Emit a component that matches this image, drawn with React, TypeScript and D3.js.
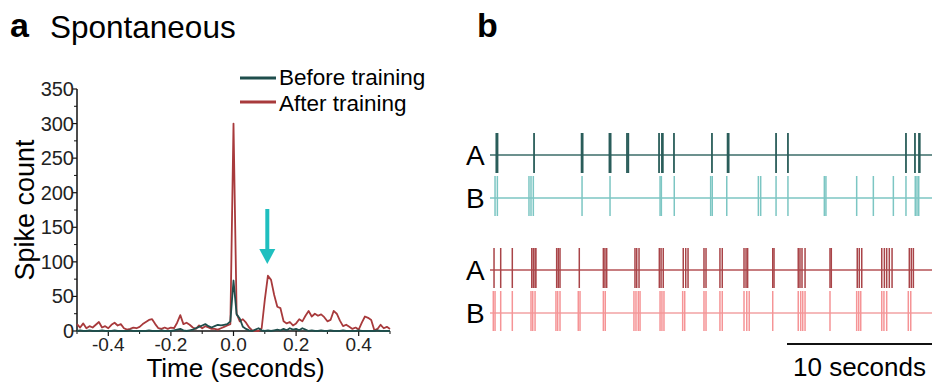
import * as d3 from 'd3';

const FONT = '"Liberation Sans", Arial, Helvetica, sans-serif';

// Panel a: spike-triggered histogram, 10 ms bins from -0.5 s to 0.5 s
const binTimes = d3.range(-50, 51).map(i => i / 100);

const beforeCounts = [
  0, 1, 0, 0, 1, 0, 0, 0, 1, 0,
  0, 0, 1, 0, 0, 0, 0, 1, 0, 0,
  0, 0, 0, 1, 0, 0, 0, 1, 0, 0,
  0, 1, 2, 3, 1, 0, 1, 2, 4, 6,
  8, 10, 7, 5, 7, 9, 8, 9, 10, 14,
  73,
  24, 18, 6, 3, 1, 0, 2, 4, 1, 0,
  1, 0, 1, 2, 1, 3, 1, 4, 2, 3,
  1, 4, 2, 0, 1, 0, 0, 1, 0, 0,
  1, 0, 0, 0, 1, 0, 0, 0, 0, 1,
  0, 0, 0, 0, 0, 1, 0, 0, 0, 0,
];

const afterCounts = [
  10, 5, 11, 4, 7, 5, 9, 13, 5, 7,
  4, 9, 12, 8, 10, 4, 2, 3, 5, 4,
  6, 10, 13, 16, 17, 10, 4, 3, 5, 3,
  5, 4, 12, 23, 10, 12, 9, 5, 3, 8,
  4, 7, 5, 3, 3, 2, 4, 6, 8, 10,
  300,
  25, 14, 17, 12, 5, 1, 0, 0, 4, 45,
  80, 74, 52, 35, 33, 14, 11, 13, 8, 11,
  17, 14, 22, 29, 21, 25, 22, 24, 20, 14,
  16, 29, 25, 15, 7, 9, 6, 3, 5, 2,
  12, 21, 19, 16, 1, 3, 9, 4, 6, 3,
];

const yTicks = [0, 50, 100, 150, 200, 250, 300, 350];
const xTicks = [-0.4, -0.2, 0.0, 0.2, 0.4];
const arrowTime = 0.108;

// Panel b: spike times (seconds) for neurons A and B
const beforeA = [0.30, 0.38, 2.90, 6.18, 6.25, 8.10, 8.18, 9.31, 9.40, 11.52, 11.72, 11.78, 12.55,
  15.17, 16.25, 16.32, 19.59, 20.41, 28.55, 29.17, 29.45, 29.50];
const beforeB = [0.21, 0.37, 2.55, 2.69, 2.85, 6.21, 8.14, 11.59, 11.68, 12.57, 15.08, 15.19,
  16.19, 18.37, 18.53, 19.59, 20.41, 22.92, 23.03, 25.15, 26.30, 27.68, 28.55, 29.19, 29.31, 29.43];
const afterA = [0.14, 0.60, 1.40, 2.74, 2.85, 2.97, 3.03, 4.46, 4.57, 4.69, 6.02, 7.68, 7.79, 7.91,
  9.86, 9.98, 10.14, 11.54, 11.66, 11.81, 13.19, 13.36, 13.52, 14.62, 14.76, 15.72, 15.88,
  17.38, 17.52, 17.63, 19.36, 19.45, 21.12, 21.24, 21.38, 21.59, 23.31, 23.40, 25.19, 25.33,
  25.50, 26.88, 27.06, 27.22, 27.40, 27.59, 28.78, 28.92, 29.06];
const afterB = [0.09, 0.21, 0.60, 1.40, 2.69, 2.81, 2.97, 4.41, 4.53, 4.69, 5.95, 6.07, 7.68, 7.81,
  9.79, 9.93, 10.09, 10.21, 11.59, 11.72, 11.86, 13.15, 13.29, 14.62, 14.76, 15.72, 15.88,
  17.38, 17.57, 17.74, 19.36, 21.12, 21.29, 21.43, 21.59, 23.31, 25.15, 25.29, 25.43,
  26.88, 27.03, 27.22, 28.71, 28.88];
const rasterLabels = ['A', 'B', 'A', 'B'];

const TEAL_DARK = '#1f4e4c';
const RED = '#a83a3c';

export default function App() {
  const width = 932;
  const height = 383;

  // ---- panel a scales
  const x = d3.scaleLinear().domain([-0.5, 0.5]).range([77, 390]);
  const y = d3.scaleLinear().domain([0, 350]).range([331, 89]);
  const line = d3.line<number>()
    .x((_, i) => x(binTimes[i]))
    .y(d => y(d));

  const yMinor = d3.range(0, 351, 25).filter(v => v % 50 !== 0);
  const xMinor = d3.range(-5, 6).map(i => i / 10).filter(v => Math.abs(Math.round(v * 10)) % 2 === 1);

  // ---- panel b scales
  const t = d3.scaleLinear().domain([0, 30]).range([492, 927]);
  const rows = [
    { times: beforeA, y: 155, spike: '#2a5d5a', base: '#3b6c69', w: 1.8 },
    { times: beforeB, y: 198, spike: '#7cc6c3', base: '#7cc6c3', w: 1.5 },
    { times: afterA, y: 270, spike: '#a94448', base: '#b45256', w: 1.5 },
    { times: afterB, y: 313, spike: '#f59496', base: '#f2a2a3', w: 1.5 },
  ];
  const barLen = t(10) - t(0);

  return (
    <svg width={width} height={height} style={{ position: 'absolute', left: 0, top: 0, background: '#fff' }}
      fontFamily={FONT}>
      {/* panel labels */}
      <text x={10} y={37} fontSize={34} fontWeight="bold">a</text>
      <text x={50} y={38} fontSize={31.5}>Spontaneous</text>
      <text x={477} y={37} fontSize={34} fontWeight="bold">b</text>

      {/* axes */}
      <line x1={x(-0.5)} x2={x(0.5)} y1={y(0)} y2={y(0)} stroke="#111" strokeWidth={1.5} />
      <line x1={x(-0.5)} x2={x(-0.5)} y1={y(0)} y2={y(350)} stroke="#111" strokeWidth={1.5} />
      {yTicks.map(v => (
        <g key={'y' + v}>
          <line x1={x(-0.5) - 5} x2={x(-0.5)} y1={y(v)} y2={y(v)} stroke="#111" strokeWidth={1.2} />
          <text x={x(-0.5) - 3} y={y(v) + 7} fontSize={20} textAnchor="end" fill="#222">{v}</text>
        </g>
      ))}
      {yMinor.map(v => (
        <line key={'ym' + v} x1={x(-0.5) - 3} x2={x(-0.5)} y1={y(v)} y2={y(v)} stroke="#111" strokeWidth={1} />
      ))}
      {xTicks.map(v => (
        <g key={'x' + v}>
          <line x1={x(v)} x2={x(v)} y1={y(0)} y2={y(0) + 5} stroke="#111" strokeWidth={1.2} />
          <text x={x(v)} y={y(0) + 20} fontSize={19} textAnchor="middle" fill="#222">{v.toFixed(1)}</text>
        </g>
      ))}
      {xMinor.map(v => (
        <line key={'xm' + v} x1={x(v)} x2={x(v)} y1={y(0)} y2={y(0) + 3} stroke="#111" strokeWidth={1} />
      ))}
      <text x={x(0) + 2} y={377} fontSize={26} textAnchor="middle">Time (seconds)</text>
      <text transform={`translate(34,${y(175)}) rotate(-90)`} fontSize={27} textAnchor="middle">Spike count</text>

      {/* series */}
      <path d={line(afterCounts) ?? ''} fill="none" stroke={RED} strokeWidth={1.8} strokeLinejoin="round" />
      <path d={line(beforeCounts) ?? ''} fill="none" stroke={TEAL_DARK} strokeWidth={1.8} strokeLinejoin="round" />

      {/* arrow */}
      <line x1={x(arrowTime)} x2={x(arrowTime)} y1={209} y2={252} stroke="#1fbfbf" strokeWidth={4} />
      <path d={`M${x(arrowTime) - 8},249 L${x(arrowTime) + 8},249 L${x(arrowTime)},264 Z`} fill="#1fbfbf" />

      {/* legend */}
      <line x1={240} x2={276} y1={78} y2={78} stroke={TEAL_DARK} strokeWidth={3} />
      <text x={279} y={85} fontSize={22.5}>Before training</text>
      <line x1={240} x2={276} y1={102} y2={102} stroke={RED} strokeWidth={3} />
      <text x={279} y={111} fontSize={22.5}>After training</text>

      {/* panel b raster */}
      {rows.map((r, i) => (
        <g key={'row' + i}>
          <text x={466} y={r.y + 10} fontSize={28}>{rasterLabels[i]}</text>
          <line x1={490} x2={width} y1={r.y} y2={r.y} stroke={r.base} strokeWidth={1.6} />
          {r.times.map((s, j) => (
            <line key={j} x1={t(s)} x2={t(s)} y1={r.y - 22} y2={r.y + 18} stroke={r.spike} strokeWidth={r.w} />
          ))}
        </g>
      ))}

      {/* scale bar */}
      <line x1={width - barLen} x2={width} y1={344} y2={344} stroke="#111" strokeWidth={1.8} />
      <text x={width - barLen / 2} y={376} fontSize={26} textAnchor="middle">10 seconds</text>
    </svg>
  );
}
